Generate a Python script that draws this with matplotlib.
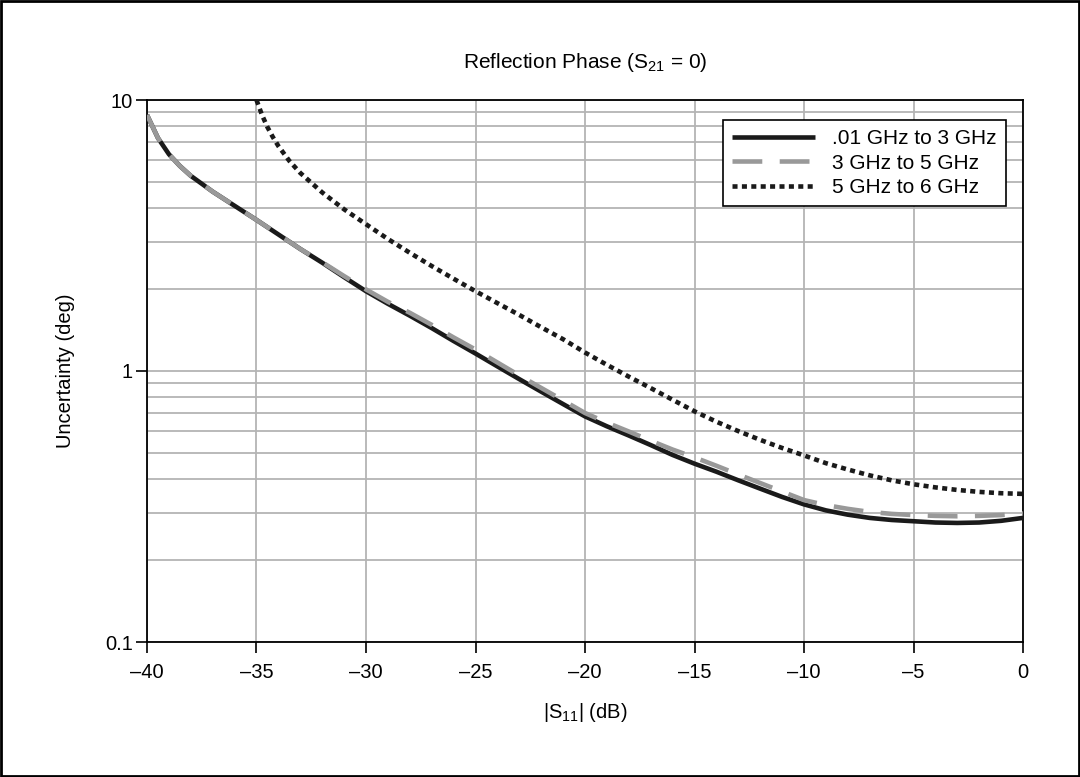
import matplotlib
matplotlib.use("Agg")
import matplotlib.pyplot as plt
from matplotlib.ticker import LogLocator, NullFormatter, FixedLocator
import numpy as np

plt.rcParams['font.family'] = ['Liberation Sans', 'DejaVu Sans']
plt.rcParams['mathtext.default'] = 'regular'

# Data
x_solid = [-40, -39.5, -39, -38.5, -38, -37, -36, -35, -34, -33, -32, -31, -30, -29, -28, -27, -26, -25, -24, -23, -22, -21, -20, -19, -18, -17, -16, -15, -14, -13, -12, -11, -10, -9, -8, -7, -6, -5, -4, -3, -2, -1, 0]
y_solid = [8.81, 7.24, 6.31, 5.71, 5.25, 4.59, 4.07, 3.61, 3.19, 2.82, 2.51, 2.22, 1.97, 1.77, 1.60, 1.44, 1.29, 1.16, 1.04, 0.933, 0.839, 0.755, 0.68, 0.625, 0.578, 0.533, 0.49, 0.455, 0.425, 0.395, 0.368, 0.343, 0.322, 0.306, 0.295, 0.287, 0.282, 0.279, 0.276, 0.275, 0.276, 0.28, 0.287]

x_dash = [-40, -39.5, -39, -38.5, -38, -37, -36, -35, -34, -33, -32, -31, -30, -29, -28, -27, -26, -25, -24, -23, -22, -21, -20, -19, -18, -17, -16, -15, -14, -13, -12, -11, -10, -9, -8, -7, -6, -5, -4, -3, -2, -1, 0]
y_dash = [8.81, 7.24, 6.31, 5.71, 5.25, 4.59, 4.07, 3.61, 3.19, 2.82, 2.52, 2.24, 2.0, 1.80, 1.64, 1.48, 1.33, 1.20, 1.075, 0.963, 0.866, 0.779, 0.70, 0.645, 0.598, 0.553, 0.513, 0.48, 0.447, 0.415, 0.386, 0.359, 0.334, 0.32, 0.31, 0.302, 0.297, 0.294, 0.292, 0.291, 0.292, 0.294, 0.298]

x_dot = [-35, -34.75, -34.5, -34.25, -34, -33.5, -33, -32, -31, -30, -29, -28, -27, -26, -25, -24, -23, -22, -21, -20, -19, -18, -17, -16, -15, -14, -13, -12, -11, -10, -9, -8, -7, -6, -5, -4, -3, -2, -1, 0]
y_dot = [10.0, 8.81, 7.94, 7.29, 6.76, 5.96, 5.38, 4.56, 3.95, 3.48, 3.07, 2.73, 2.44, 2.19, 1.97, 1.78, 1.61, 1.45, 1.31, 1.17, 1.054, 0.953, 0.865, 0.783, 0.710, 0.650, 0.600, 0.557, 0.520, 0.488, 0.457, 0.433, 0.412, 0.395, 0.382, 0.372, 0.364, 0.358, 0.354, 0.352]

labels = [".01 GHz to 3 GHz", "3 GHz to 5 GHz", "5 GHz to 6 GHz"]
x_ticks = [-40, -35, -30, -25, -20, -15, -10, -5, 0]
y_ticks = [0.1, 1, 10]
y_ticklabels = ["0.1", "1", "10"]

FS = 14.5

fig = plt.figure(figsize=(10.8, 7.77), dpi=100)
ax = fig.add_axes([147/1080, 1-642/777, (1023-147)/1080, (642-100)/777])

ax.plot(x_solid, y_solid, color='#1a1a1a', lw=3.3, solid_capstyle='butt', label=labels[0], zorder=3)
ax.plot(x_dash, y_dash, color='#999999', lw=3.3, dashes=(6.5, 3.8), label=labels[1], zorder=4)
ax.plot(x_dot, y_dot, color='#1a1a1a', lw=3.3, dashes=(1.1, 0.95), label=labels[2], zorder=5)

ax.set_yscale('log')
ax.set_xlim(-40, 0)
ax.set_ylim(0.1, 10)
ax.set_xticks(x_ticks)
ax.set_xticklabels([("\u2013" + str(abs(v))) if v < 0 else str(v) for v in x_ticks])
ax.yaxis.set_major_locator(FixedLocator(y_ticks))
ax.set_yticklabels(y_ticklabels)
ax.yaxis.set_minor_locator(LogLocator(base=10, subs=np.arange(2, 10)))
ax.yaxis.set_minor_formatter(NullFormatter())
ax.tick_params(axis='y', which='minor', length=0)
ax.tick_params(axis='both', which='major', length=8, width=1.2, direction='out', labelsize=FS)
ax.tick_params(axis='x', which='major', pad=7)
ax.tick_params(axis='y', which='major', pad=2)

ax.grid(True, which='major', axis='both', color='#b4b4b4', lw=1.3)
ax.grid(True, which='minor', axis='y', color='#b4b4b4', lw=1.3)
ax.set_axisbelow(True)
for s in ax.spines.values():
    s.set_color('black')
    s.set_linewidth(1.3)

ax.set_title("Reflection Phase (S$_{21}$ = 0)", fontsize=15, pad=23)
ax.set_ylabel("Uncertainty (deg)", fontsize=FS, labelpad=22)
ax.set_xlabel("|S$_{11}$| (dB)", fontsize=FS, labelpad=14)

leg = ax.legend(loc='upper right', bbox_to_anchor=(0.9806, 0.963), fontsize=15, frameon=True,
                fancybox=False, edgecolor='black', framealpha=1, handlelength=4.0,
                borderpad=0.45, labelspacing=0.25, handletextpad=0.8, borderaxespad=0)
leg.get_frame().set_linewidth(1.2)

# figure border
fig.patches.append(plt.Rectangle((0.001, 0.0015), 0.998, 0.997, transform=fig.transFigure,
                                 fill=False, edgecolor='black', lw=2))

fig.savefig("out.png", dpi=100)
